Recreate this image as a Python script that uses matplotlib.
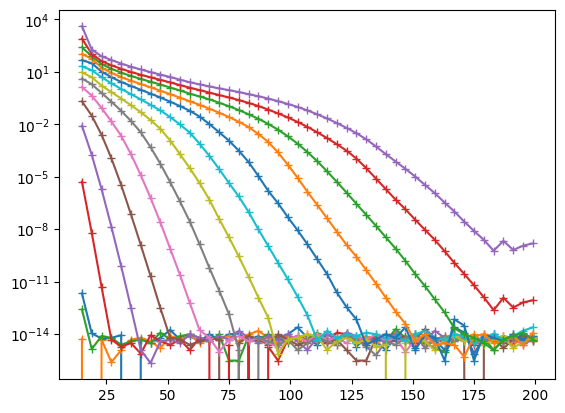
import numpy as np
import matplotlib
matplotlib.use("Agg")
import matplotlib.pyplot as plt
import matplotlib.ticker as ticker

# x grid (15, 19, ..., 199)
x = np.arange(15, 200, 4)

# log10 of each series, None = value <= 0 (falls off the log axis)
s00 = [-11.66, -13.95, -14.24, -14.2, -14.05, None, -14.24, -14.5, -14.2, -13.75,
       -14.3, -14.1, -14.4, -14.0, -14.3, -14.0, -13.95, -14.4, -14.1, -14.5,
       -14.2, -14.0, -13.6, -14.2, -14.6, -14.0, -14.3, -13.9, -14.7, -14.2,
       -14.4, -14.9, -14.1, -14.3, -14.8, -14.1, -14.3, -14.9, -13.6, -13.9,
       -15.1, -14.2, -14.0, -14.5, -14.3, -14.0, -14.2]
s01 = [-14.24, None, -14.3, -15.6, -14.9, -14.3, -14.2, -14.4, -14.8, -14.1,
       -14.3, -14.0, -14.5, -14.2, -14.3, -14.1, -14.4, -14.0, -13.8, -14.2,
       -14.5, -14.1, -14.3, -14.0, -14.4, -14.2, -14.6, -14.0, -14.3, -14.1,
       -14.5, -14.2, -13.9, -14.3, -14.0, -14.6, -14.3, -14.1, -14.4, -14.2,
       -14.0, -14.5, -14.1, -14.3, -14.6, -14.2, -14.4]
s02 = [-12.58, -14.84, -14.1, -14.2, -14.6, -14.4, -14.3, -14.5, -13.9, -14.3,
       -14.1, -14.0, -14.2, -14.4, -14.0, -15.5, -15.5, -14.1, -14.3, -14.0,
       -14.2, -14.5, -14.1, -14.3, -13.9, -14.4, -14.2, -14.0, -14.5, -14.3,
       -14.1, -14.4, -13.7, -14.2, -14.0, -14.5, -14.8, -15.0, -14.3, -14.1,
       -14.4, -14.2, -14.9, -14.3, -14.1, -14.4, -14.2]
s03 = [-5.27, -8.2, -11.28, -14.3, -14.7, -14.5, -15.1, -14.05, -14.4, -14.6,
       -14.3, -14.9, -14.2, -14.4, None, -14.6, None, -14.3, None, -14.7,
       -15.5, -14.3, -14.1, -14.4, -14.2, -14.5, -13.9, -14.0, -14.3, -14.6,
       -14.2, -14.4, -14.0, -14.3, -14.5, -14.1, -14.4, -14.2, -14.0, -14.3,
       -14.6, -14.2, -14.4, -14.1, -14.3, -14.5, -14.2]
s04 = [-2.07, -3.74, -5.7, -7.84, -10.1, -12.47, -14.9, -15.64, -14.4, -14.3,
       -14.5, -14.0, -14.2, -14.4, -14.1, -14.3, -13.8, -14.2, -14.5, -14.1,
       -14.3, -14.0, -14.4, -14.9, -14.2, -14.0, -14.3, -13.9, -14.1, -14.4,
       -14.2, -14.5, -14.0, -14.3, -14.1, -14.4, -13.8, -14.2, -14.0, -14.3,
       -14.5, -14.1, -14.2, -14.4, -14.0, -14.3, -14.1]
s05 = [-0.68, -1.5, -2.59, -3.93, -5.46, -7.14, -8.89, -10.67, -12.5, -14.2,
       -14.3, -14.6, -14.4, -14.2, -14.3, None, -14.5, -14.1, -14.3, -14.6,
       -14.0, -14.3, -14.6, -14.4, -14.2, -14.5, -14.3, -14.9, -15.5, -15.5,
       -14.2, -14.0, -14.4, -14.1, -14.3, -13.7, -14.2, -14.5, -14.1, -14.3,
       None, -14.4, -14.2, -14.8, -14.3, -14.1, -14.4]
s06 = [0.14, -0.35, -1.06, -1.83, -2.65, -3.7, -4.9, -6.2, -7.6, -9.1,
       -10.6, -12.2, -13.76, -14.2, -15.0, -14.3, -14.1, -14.4, -14.2, -14.5,
       -14.7, -14.3, -14.1, -14.4, -14.0, -14.3, -14.2, -14.5, -14.1, -14.3,
       -14.0, -14.4, -14.2, -15.0, -14.3, -14.1, -14.4, -14.2, -14.0, -14.3,
       -14.5, -14.2, -14.1, -14.4, -14.2, -14.6, -14.3]
s07 = [0.62, 0.3, -0.2, -0.7, -1.22, -1.8, -2.45, -3.3, -4.25, -5.3,
       -6.4, -7.55, -8.85, -10.2, -11.5, -12.85, -14.9, None, -14.2, -14.4,
       -14.6, -14.3, -14.9, -14.5, -14.2, -14.4, -14.6, -14.1, -14.3, -14.7,
       -15.2, -14.4, -14.6, -14.2, -14.0, -14.8, -14.3, -14.1, -14.4, -14.2,
       -14.5, -14.3, -14.0, -14.4, -14.2, -14.5, -14.3]
s08 = [0.98, 0.7, 0.22, -0.15, -0.52, -0.9, -1.3, -1.75, -2.25, -2.92,
       -3.7, -4.5, -5.35, -6.3, -7.4, -8.45, -9.55, -10.7, -11.9, -13.05,
       -15.1, -14.3, -14.2, -14.0, -14.1, -14.9, -14.4, -14.2, -14.5, -14.3,
       -14.7, -14.6, None, -14.5, -14.2, -14.4, -14.9, -14.3, -14.1, -14.4,
       -14.2, -14.6, -14.3, -14.1, -14.8, -14.4, -14.2]
s09 = [1.32, 1.1, 0.7, 0.35, 0.03, -0.27, -0.57, -0.88, -1.2, -1.58,
       -2.0, -2.47, -3.1, -3.8, -4.55, -5.35, -6.12, -7.0, -8.0, -8.95,
       -9.9, -10.85, -11.85, -12.9, -14.34, -13.8, -14.2, -14.0, -14.1, -13.9,
       -14.0, -14.2, -14.1, -14.4, -14.0, -13.8, -14.2, -14.3, -14.0, -14.1,
       -14.5, -14.2, -14.0, -14.3, -14.1, -13.8, -13.6]
s10 = [1.67, 1.5, 1.02, 0.7, 0.43, 0.2, -0.02, -0.24, -0.46, -0.7,
       -0.95, -1.22, -1.55, -1.98, -2.45, -2.93, -3.5, -4.15, -4.95, -5.8,
       -6.5, -7.3, -8.05, -8.85, -9.7, -10.55, -11.6, -12.45, -13.15, -14.6,
       -14.3, -14.0, -14.2, -13.6, -14.9, -14.0, -14.2, -15.5, -13.15, -13.5,
       -15.5, -14.0, -14.2, -14.4, -14.0, -14.3, -14.1]
s11 = [2.03, 1.75, 1.25, 0.95, 0.7, 0.5, 0.31, 0.12, -0.07, -0.27,
       -0.47, -0.68, -0.88, -1.1, -1.33, -1.58, -1.85, -2.15, -2.55, -3.0,
       -3.6, -4.3, -5.05, -5.85, -6.6, -7.36, -8.13, -8.89, -9.56, -10.33,
       -11.1, -11.9, -12.7, -13.4, -14.4, -14.0, -14.6, -14.5, -14.6, -15.3,
       -14.1, -14.0, -14.5, -14.4, -14.1, -14.6, -13.9]
s12 = [2.41, 1.9, 1.45, 1.18, 0.96, 0.77, 0.6, 0.44, 0.28, 0.11,
       -0.06, -0.24, -0.4, -0.57, -0.76, -0.96, -1.18, -1.42, -1.68, -1.97,
       -2.3, -2.68, -3.1, -3.58, -4.1, -4.68, -5.28, -5.9, -6.54, -7.17,
       -7.8, -8.45, -9.1, -9.8, -10.55, -11.25, -12.0, -12.75, -13.65, -14.0,
       -14.2, -14.5, -14.9, -14.3, -14.1, -13.9, -14.3]
s13 = [2.91, 2.03, 1.62, 1.38, 1.18, 1.0, 0.84, 0.69, 0.55, 0.4,
       0.25, 0.1, -0.04, -0.18, -0.32, -0.46, -0.61, -0.77, -0.95, -1.15,
       -1.37, -1.6, -1.86, -2.14, -2.45, -2.78, -3.13, -3.5, -3.95, -4.5,
       -5.1, -5.7, -6.3, -6.85, -7.45, -8.03, -8.6, -9.25, -9.92, -10.55,
       -11.2, -11.88, -12.62, -11.91, -12.47, -12.18, -12.05]
s14 = [3.62, 2.28, 1.9, 1.68, 1.48, 1.3, 1.14, 0.99, 0.85, 0.71,
       0.56, 0.41, 0.29, 0.17, 0.06, -0.04, -0.15, -0.27, -0.39, -0.52,
       -0.67, -0.83, -1.0, -1.2, -1.42, -1.66, -1.92, -2.2, -2.5, -2.85,
       -3.26, -3.7, -4.12, -4.54, -4.98, -5.46, -5.93, -6.47, -6.98, -7.56,
       -8.09, -8.6, -9.22, -8.66, -9.18, -8.93, -8.8]

series = [s00, s01, s02, s03, s04, s05, s06, s07, s08, s09,
          s10, s11, s12, s13, s14]

fig, ax = plt.subplots(figsize=(6.4, 4.8), dpi=100)

for s in series:
    y = np.array([0.0 if v is None else 10.0 ** v for v in s])
    ax.plot(x, y, marker='+')

ax.set_yscale('log')
ax.set_ylim(10 ** -16.57, 10 ** 4.56)
ax.yaxis.set_major_locator(ticker.LogLocator(base=10, numticks=8))
ax.yaxis.set_minor_locator(ticker.NullLocator())

plt.savefig("out.png", bbox_inches='tight')
